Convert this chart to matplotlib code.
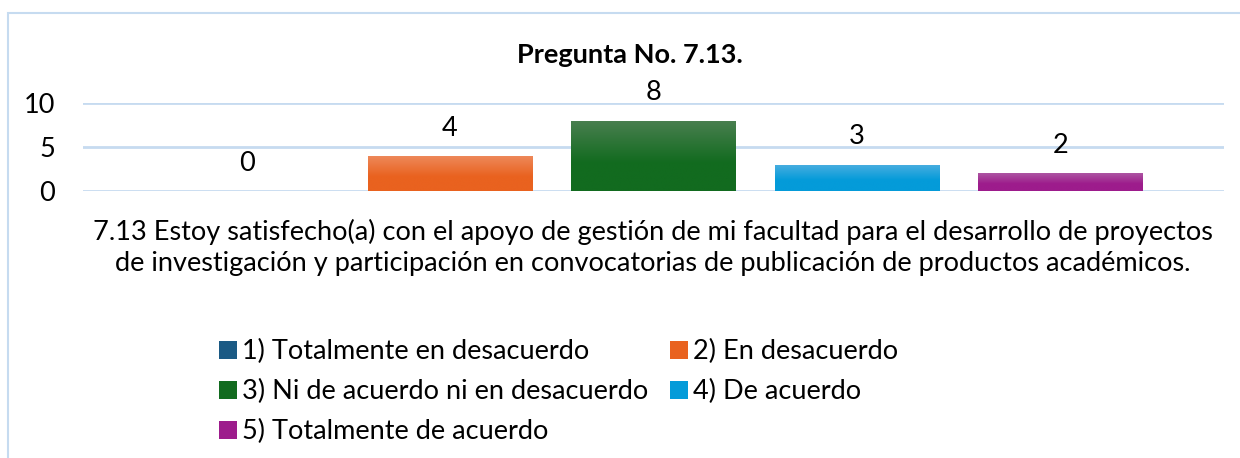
import matplotlib.pyplot as plt
import matplotlib.patches as mpatches
import numpy as np

plt.rcParams['font.family'] = ['Lato', 'DejaVu Sans']

# data
series = ['1) Totalmente en desacuerdo', '2) En desacuerdo',
          '3) Ni de acuerdo ni en desacuerdo', '4) De acuerdo',
          '5) Totalmente de acuerdo']
values = [0, 4, 8, 3, 2]
category = ('7.13 Estoy satisfecho(a) con el apoyo de gestión de mi facultad para el desarrollo de proyectos\n'
            'de investigación y participación en convocatorias de publicación de productos académicos.')
title = 'Pregunta No. 7.13.'
yticks = [0, 5, 10]

# base colour (bottom) and lighter top of each bar's gradient
base_cols = ['#1b5a84', '#e9621f', '#126b1f', '#049bd9', '#9d1c8c']
top_cols = ['#4a7aa0', '#ee8a5c', '#4a7f50', '#4aaee0', '#ad55a2']

FS = 19.5

fig = plt.figure(figsize=(12.4, 4.58), dpi=100)
W, H = 1240, 458
ax = fig.add_axes([83 / W, 1 - 191 / H, (1224 - 83) / W, 88 / H])

spacing = 203.5 / 1141
width = 165 / 1141
grad = np.linspace(0, 1, 100).reshape(-1, 1)
for i, (v, bc, tc) in enumerate(zip(values, base_cols, top_cols)):
    x = (i - 2) * spacing
    bars = ax.bar(x, v, width, color=bc, label=series[i], zorder=2)
    if v > 0:
        # vertical gradient: light at top, solid towards the bottom
        b = np.array(plt.matplotlib.colors.to_rgb(bc))
        t = np.array(plt.matplotlib.colors.to_rgb(tc))
        f = np.clip(grad / 0.6, 0, 1)
        img = (t * (1 - f) + b * f).reshape(100, 1, 3)
        im = ax.imshow(img, extent=(x - width / 2, x + width / 2, 0, v),
                       origin='upper', aspect='auto', zorder=3,
                       interpolation='bilinear')
        im.set_clip_path(bars[0])
    ax.annotate(str(v), (x, v), xytext=(0, 20), textcoords='offset points',
                ha='center', va='center', fontsize=FS, color='#000000')

ax.set_xlim(-0.5, 0.5)
ax.set_ylim(0, 10)
ax.set_yticks(yticks)
ax.set_xticks([])
ax.tick_params(axis='y', length=0, pad=20, labelsize=FS)
ax.yaxis.grid(True, color='#c6dbf0', linewidth=2)
ax.set_axisbelow(True)
for s in ax.spines.values():
    s.set_visible(False)

fig.text(630 / W, 1 - 55 / H, title, ha='center', va='center',
         fontsize=FS, fontweight='bold')
fig.text(653 / W, 1 - 247 / H, category, ha='center', va='center',
         fontsize=FS, linespacing=1.3)

# outer chart frame (partially cut in the reference)
fig.patches.append(mpatches.Rectangle((8 / W, -0.1), 1.2, 1 - 13 / H + 0.1,
                                      transform=fig.transFigure, fill=False,
                                      edgecolor='#c6dbf0', linewidth=1.5))

handles, labels = ax.get_legend_handles_labels()
order = [0, 2, 4, 1, 3]
fig.legend([handles[k] for k in order], [labels[k] for k in order],
           loc='upper left', bbox_to_anchor=(195 / W, 1 - 315 / H), ncol=2,
           frameon=False, fontsize=FS, handlelength=0.65, handleheight=0.65,
           handletextpad=0.2, columnspacing=0.8, labelspacing=0.55)

fig.savefig('out.png', dpi=100)
